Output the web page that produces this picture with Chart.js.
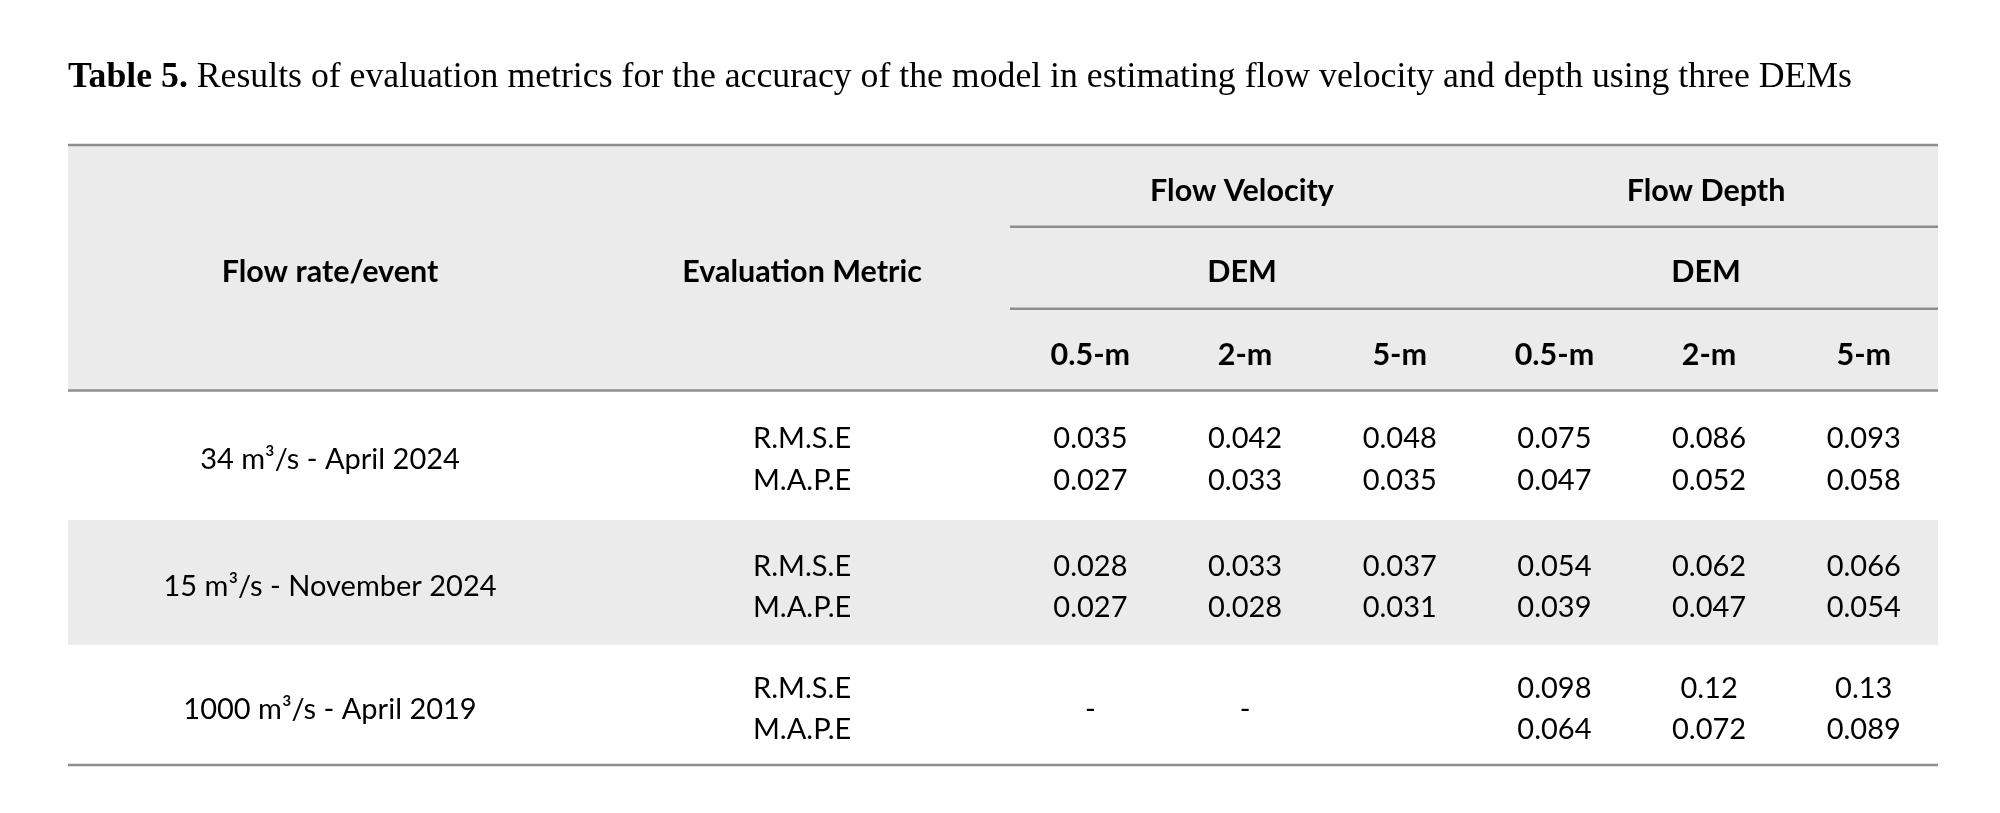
<!DOCTYPE html>
<html><head><meta charset="utf-8">
<script src="https://cdn.jsdelivr.net/npm/chart.js@4.4.1/dist/chart.umd.min.js"></script>
<style>html,body{margin:0;padding:0;background:#fff;}#wrap{width:2000px;height:813px;position:relative;}</style>
</head><body><div id="wrap"><canvas id="c"></canvas></div>
<script>
// ---------- data ----------
const titleBold = "Table 5.";
const titleRest = " Results of evaluation metrics for the accuracy of the model in estimating flow velocity and depth using three DEMs";
const headerFirst = "Flow rate/event";
const headerSecond = "Evaluation Metric";
const groups = ["Flow Velocity", "Flow Depth"];
const groupSub = "DEM";
const demResolutions = ["0.5-m", "2-m", "5-m"];
const events = ["34 m³/s - April 2024", "15 m³/s - November 2024", "1000 m³/s - April 2019"];
const metrics = ["R.M.S.E", "M.A.P.E"];
const velocityRMSE = [[0.035, 0.042, 0.048], [0.028, 0.033, 0.037], [null, null, null]];
const velocityMAPE = [[0.027, 0.033, 0.035], [0.027, 0.028, 0.031], [null, null, null]];
const depthRMSE = [[0.075, 0.086, 0.093], [0.054, 0.062, 0.066], [0.098, 0.12, 0.13]];
const depthMAPE = [[0.047, 0.052, 0.058], [0.039, 0.047, 0.054], [0.064, 0.072, 0.089]];
const missingMarks = ["-", "-", ""];

// ---------- layout (grid units) ----------
const X_COL1 = 1.694, X_COL2 = 4.746, X_DATA0 = 6.09, X_MAX = 12.09;
const Y_MAX = 15;
const HEAD_LINES = [0, 1.98, 3.96, 5.94];
const BLOCK_EDGES = [5.94, 9.07, 12.09, 15];
const HEAD_TEXT = [1.085, 3.05, 5.06];
const CENTER_SHIFT = 0.085, LINE_HALF = 0.5;
const BODY_SIZE = 29, BOLD_SIZE = 30.5;
const FONT_BODY = BODY_SIZE + 'px Lato', FONT_BOLD = 'bold ' + BOLD_SIZE + 'px Lato';
const GRAY = '#ebebeb', RULE = '#8e8e8e';

const colX = i => X_DATA0 + 0.5 + i + 0.02;
const blockMid = e => (BLOCK_EDGES[e] + BLOCK_EDGES[e + 1]) / 2 + CENTER_SHIFT;
const lineY = (e, mi) => blockMid(e) + (mi === 0 ? -LINE_HALF : LINE_HALF);

const cells = [];
const add = (x, y, text, font, size) => cells.push({x, y, text, font, size});
add(X_COL1, HEAD_TEXT[1], headerFirst, FONT_BOLD, BOLD_SIZE);
add(X_COL2, HEAD_TEXT[1], headerSecond, FONT_BOLD, BOLD_SIZE);
groups.forEach((g, gi) => {
  add(X_DATA0 + gi * 3 + 1.5, HEAD_TEXT[0], g, FONT_BOLD, BOLD_SIZE);
  add(X_DATA0 + gi * 3 + 1.5, HEAD_TEXT[1], groupSub, FONT_BOLD, BOLD_SIZE);
  demResolutions.forEach((d, di) => add(colX(gi * 3 + di), HEAD_TEXT[2], d, FONT_BOLD, BOLD_SIZE));
});
const groupValues = [[velocityRMSE, velocityMAPE], [depthRMSE, depthMAPE]];
events.forEach((ev, e) => {
  add(X_COL1, blockMid(e), ev, FONT_BODY, BODY_SIZE);
  metrics.forEach((m, mi) => add(X_COL2, lineY(e, mi), m, FONT_BODY, BODY_SIZE));
  groupValues.forEach((gv, gi) => {
    demResolutions.forEach((d, di) => {
      const allMissing = gv.every(arr => arr[e][di] === null);
      if (allMissing) {
        if (missingMarks[di]) add(colX(gi * 3 + di), blockMid(e), missingMarks[di], FONT_BODY, BODY_SIZE);
      } else {
        gv.forEach((arr, mi) => add(colX(gi * 3 + di), lineY(e, mi), String(arr[e][di]), FONT_BODY, BODY_SIZE));
      }
    });
  });
});

const tablePlugin = {
  id: 'tablePlugin',
  beforeDatasetsDraw(chart) {
    const {ctx, scales: {x, y}} = chart;
    ctx.save();
    ctx.fillStyle = GRAY;
    const rect = (x0, x1, y0, y1) => ctx.fillRect(x.getPixelForValue(x0), y.getPixelForValue(y0),
      x.getPixelForValue(x1) - x.getPixelForValue(x0), y.getPixelForValue(y1) - y.getPixelForValue(y0));
    rect(0, X_MAX, HEAD_LINES[0], HEAD_LINES[3]);
    rect(0, X_MAX, BLOCK_EDGES[1], BLOCK_EDGES[2]);
    ctx.strokeStyle = RULE;
    ctx.lineWidth = 2.5;
    const hline = (x0, x1, yv) => {
      ctx.beginPath();
      ctx.moveTo(x.getPixelForValue(x0), y.getPixelForValue(yv));
      ctx.lineTo(x.getPixelForValue(x1), y.getPixelForValue(yv));
      ctx.stroke();
    };
    hline(0, X_MAX, HEAD_LINES[0]);
    hline(X_DATA0, X_MAX, HEAD_LINES[1]);
    hline(X_DATA0, X_MAX, HEAD_LINES[2]);
    hline(0, X_MAX, HEAD_LINES[3]);
    hline(0, X_MAX, BLOCK_EDGES[3]);
    ctx.restore();
  },
  afterDatasetsDraw(chart) {
    const {ctx} = chart;
    ctx.save();
    ctx.fillStyle = '#000';
    ctx.textAlign = 'center';
    ctx.textBaseline = 'alphabetic';
    chart.data.datasets.forEach((ds, i) => {
      chart.getDatasetMeta(i).data.forEach((el, j) => {
        const c = ds.data[j];
        ctx.font = c.font;
        ctx.fillText(c.text, el.x, el.y + c.size * 0.358);
      });
    });
    // title
    const x0 = chart.chartArea.left, base = 87;
    ctx.textAlign = 'left';
    ctx.font = 'bold 35px "Liberation Serif"';
    const wb = ctx.measureText(titleBold).width;
    ctx.font = '35px "Liberation Serif"';
    const wr = ctx.measureText(titleRest).width;
    const sx = 1784 / (wb + wr);
    ctx.translate(x0, base);
    ctx.scale(sx, 1);
    ctx.font = 'bold 35px "Liberation Serif"';
    ctx.fillText(titleBold, 0, 0);
    ctx.font = '35px "Liberation Serif"';
    ctx.fillText(titleRest, wb, 0);
    ctx.restore();
  }
};

function build() {
  new Chart(document.getElementById('c'), {
    type: 'scatter',
    data: {datasets: [{data: cells, pointRadius: 0, showLine: false}]},
    options: {
      responsive: true, maintainAspectRatio: false, animation: false, devicePixelRatio: 1,
      events: [],
      layout: {padding: {left: 68, right: 62, top: 145, bottom: 48}},
      scales: {
        x: {type: 'linear', min: 0, max: X_MAX, display: false},
        y: {type: 'linear', min: 0, max: Y_MAX, reverse: true, display: false}
      },
      plugins: {legend: {display: false}, tooltip: {enabled: false}, title: {display: false}}
    },
    plugins: [tablePlugin]
  });
}
Promise.all([
  document.fonts.load(FONT_BODY), document.fonts.load(FONT_BOLD),
  document.fonts.load('35px "Liberation Serif"'), document.fonts.load('bold 35px "Liberation Serif"')
]).then(build, build);
</script></body></html>
